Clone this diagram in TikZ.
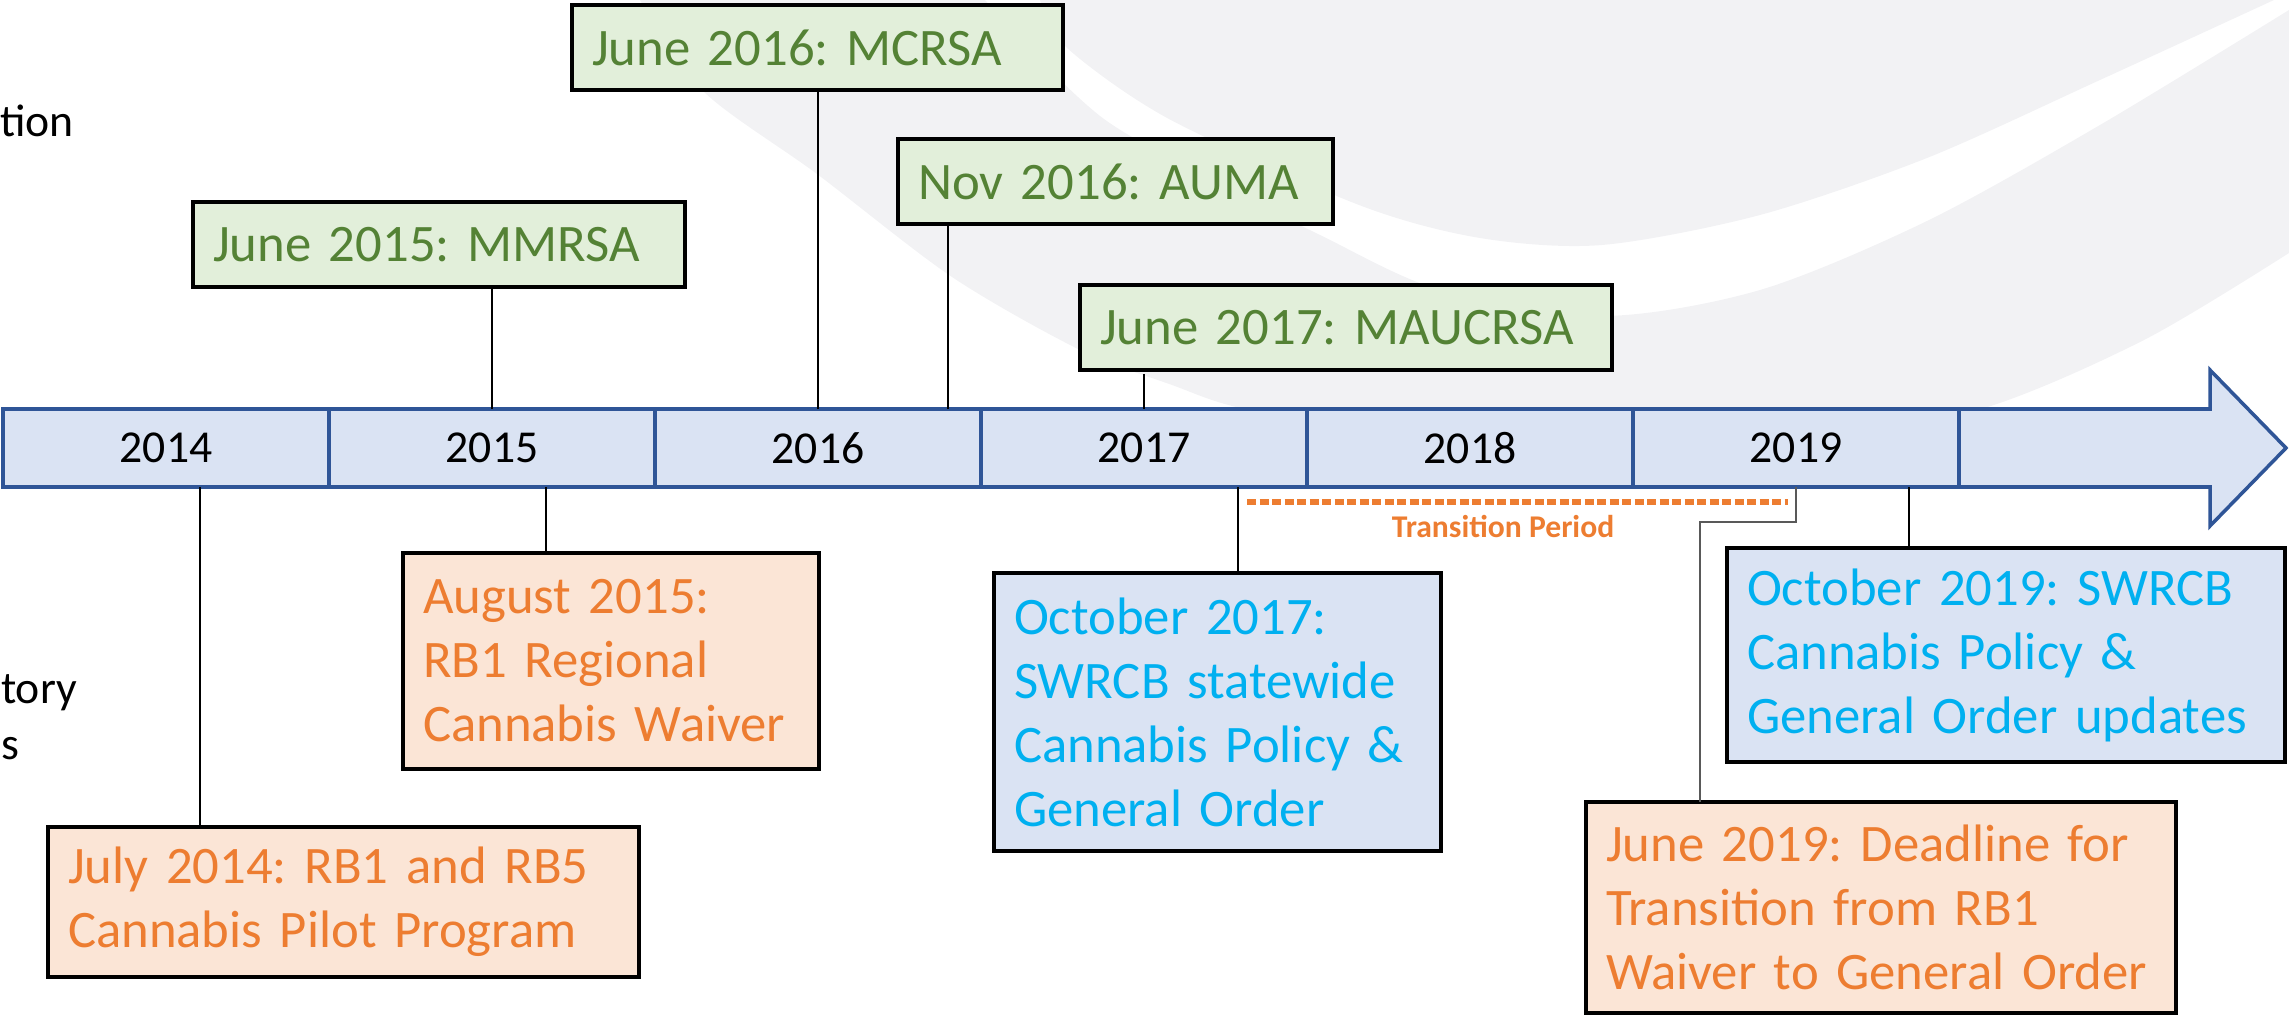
\documentclass[tikz,border=0pt]{standalone}
\usepackage{fontspec}
\setmainfont{Carlito}
\usepackage{tikz}
\usetikzlibrary{positioning}
\frenchspacing

\definecolor{barfill}{HTML}{DAE3F3}
\definecolor{barline}{HTML}{2F5597}
\definecolor{lawfill}{HTML}{E2EFDA}
\definecolor{lawtext}{HTML}{548235}
\definecolor{rbfill}{HTML}{FBE5D6}
\definecolor{rbtext}{HTML}{ED7D31}
\definecolor{swfill}{HTML}{DAE3F3}
\definecolor{swtext}{HTML}{00B0F0}
\definecolor{swoosh}{HTML}{F2F2F4}

\begin{document}
\begin{tikzpicture}[x=0.1mm,y=-0.1mm,semithick,
    year/.style={draw=barline,fill=barfill,line width=1pt,minimum width=32.6mm,
      minimum height=7.8mm,inner sep=0pt,outer sep=0pt,font=\fontsize{13}{15}\selectfont},
    event/.style={draw=black,line width=1.1pt,anchor=north west,inner xsep=2mm,
      inner ysep=0pt,outer sep=0pt,align=left,font=\fontsize{15}{18.2}\selectfont},
    law/.style={event,fill=lawfill,text=lawtext,minimum height=8.5mm},
    rb/.style={event,fill=rbfill,text=rbtext},
    sw/.style={event,fill=swfill,text=swtext},
    stem/.style={draw=black,line width=0.8pt},
    thinlink/.style={draw=black!65,line width=0.4pt},
    transit/.style={draw=rbtext,line width=1.7pt,dash pattern=on 0.9mm off 0.35mm},
    side/.style={anchor=base west,inner sep=0pt,font=\fontsize{13}{15}\selectfont}]
  \useasboundingbox (0,0) rectangle (2289,1016);

  % background swoosh
  \fill[swoosh] plot[smooth] coordinates {(1040,0) (1066,47) (1169,119) (1359,205)
    (1480,238) (1602,245) (1760,215) (1927,158) (2100,80) (2274,0)} -- cycle;
  \fill[swoosh] plot[smooth] coordinates {(985,0) (1030,50) (1104,119) (1196,172)
    (1320,235) (1440,290) (1602,316) (1760,290) (1927,221) (2100,125) (2289,10)}
    -- plot[smooth] coordinates {(2289,253) (2144,340) (1981,409) (1800,440) (1600,450)
    (1400,440) (1240,408) (1172,385) (1080,350) (952,277) (817,174) (703,91) (640,0)}
    -- cycle;

  \node[side] (legis) at (-1,137) {tion};
  \node[side] (regul) at (0,704) {tory};
  \node[side] (acts)  at (0,760) {s};

  \draw[draw=barline,fill=barfill,line width=1pt] (1959,409) -- (2210,409) -- (2210,370)
    -- (2286,448) -- (2210,526) -- (2210,487) -- (1959,487) -- cycle;

  \node[year]                   (y2014) at (166,448) {2014};
  \node[year,right=0pt of y2014] (y2015) {2015};
  \node[year,right=0pt of y2015] (y2016) {2016};
  \node[year,right=0pt of y2016] (y2017) {2017};
  \node[year,right=0pt of y2017] (y2018) {2018};
  \node[year,right=0pt of y2018] (y2019) {2019};

  \node[law,text width=45.2mm] (mmrsa)   at (193,202)  {June 2015: MMRSA};
  \node[law,text width=45.1mm] (mcrsa)   at (572,5)    {June 2016: MCRSA};
  \node[law,text width=39.5mm] (auma)    at (898,139)  {Nov 2016: AUMA};
  \node[law,text width=49.2mm] (maucrsa) at (1080,285) {June 2017: MAUCRSA};

  \node[rb,text width=55.1mm,minimum height=15mm]   (pilot)    at (48,827)   {July 2014: RB1 and RB5\\Cannabis Pilot Program};
  \node[rb,text width=37.6mm,minimum height=21.6mm] (waiver)   at (403,553)  {August 2015:\\RB1 Regional\\Cannabis Waiver};
  \node[rb,text width=55mm,minimum height=21.1mm]   (deadline) at (1586,802) {June 2019: Deadline for\\Transition from RB1\\Waiver to General Order};

  \node[sw,text width=40.7mm,minimum height=27.8mm] (policy) at (994,573)  {October 2017:\\SWRCB statewide\\Cannabis Policy \&\\General Order};
  \node[sw,text width=51.8mm,minimum height=21.4mm] (update) at (1727,548) {October 2019: SWRCB\\Cannabis Policy \&\\General Order updates};

  \draw[stem] (mmrsa.south -| y2015) -- (y2015.north);
  \draw[stem] (mcrsa.south -| y2016) -- (y2016.north);
  \draw[stem] ([xshift=5mm]auma.south west) -- ([xshift=5mm]auma.south west |- y2016.north);
  \draw[stem] ([yshift=-0.4mm]maucrsa.south -| y2017) -- (y2017.north);
  \draw[stem] ([xshift=15.2mm]pilot.north west) -- ([xshift=15.2mm]pilot.north west |- y2014.south);
  \draw[stem] ([xshift=14.3mm]waiver.north west) -- ([xshift=14.3mm]waiver.north west |- y2015.south);
  \draw[stem] ([xshift=24.4mm]policy.north west) -- ([xshift=24.4mm]policy.north west |- y2017.south);
  \draw[stem] ([xshift=18.2mm]update.north west) -- ([xshift=18.2mm]update.north west |- y2019.south);
  \draw[thinlink] (y2019.south) -- ++(0,35) -| ([xshift=11.4mm]deadline.north west);

  \draw[transit] (1247,502) -- (1788,502);
  \node[text=rbtext,font=\bfseries\fontsize{9}{11}\selectfont] (period) at (1503,527) {Transition Period};
\end{tikzpicture}
\end{document}
